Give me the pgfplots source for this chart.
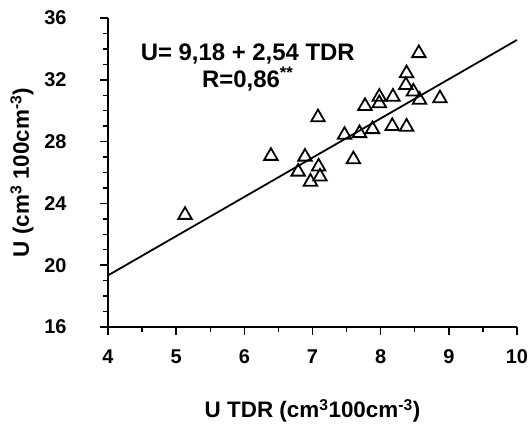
\documentclass[border=0pt]{standalone}
\usepackage{pgfplots}
\pgfplotsset{compat=1.18}
\usepackage{fontspec}
\setmainfont{Liberation Sans}
\begin{document}
\begin{tikzpicture}
\useasboundingbox (-108bp,-103bp) rectangle (424bp,327bp);
\begin{axis}[
  scale only axis,
  width=409bp, height=309bp,
  xmin=4, xmax=10, ymin=16, ymax=36,
  axis lines*=left,
  axis line style={line width=1.8pt},
  xtick={4,5,...,10}, ytick={16,20,...,36},
  minor x tick num=1, minor y tick num=3,
  tick align=outside,
  tick style={line width=1.5pt, black},
  major tick length=8bp, minor tick length=5bp,
  tick label style={font=\fontsize{20}{22}\selectfont\bfseries},
  /pgf/number format/assume math mode=true,
  xticklabel style={yshift=-11bp},
  yticklabel style={xshift=-30bp},
  xlabel={U TDR (cm\textsuperscript{3}100cm\textsuperscript{-3})},
  ylabel={U (cm\textsuperscript{3} 100cm\textsuperscript{-3})},
  label style={font=\fontsize{22.5}{24}\selectfont\bfseries},
  xlabel style={at={(axis description cs:0.5,0)}, anchor=center, yshift=-84bp},
  ylabel style={at={(axis description cs:0,0.5)}, anchor=center, yshift=86bp},
  clip=false,
]
\addplot[black, line width=1.8pt] coordinates {(4,19.34) (10,34.58)};
\addplot[only marks, mark=triangle, mark size=7.8pt, mark options={line width=1.8pt, black, fill=white}] coordinates {
(5.13,23.25) (6.39,27.07) (7.08,29.57) (6.89,27.02) (6.79,26.05)
(6.97,25.40) (7.11,25.73) (7.09,26.38) (7.47,28.43) (7.60,26.85)
(7.69,28.54) (7.88,28.80) (7.77,30.30) (7.98,30.90) (7.98,30.48)
(8.18,30.90) (8.17,29.00) (8.38,28.96) (8.38,32.42) (8.37,31.66)
(8.48,31.23) (8.57,30.70) (8.56,33.72) (8.87,30.80)
};
\node[font=\fontsize{24}{25}\selectfont\bfseries, anchor=base, inner sep=0pt] at (axis cs:6.05,33.25) {U= 9,18 + 2,54 TDR};
\node[font=\fontsize{24}{25}\selectfont\bfseries, anchor=base, inner sep=0pt] at (axis cs:6.05,31.5) {R=0,86\textsuperscript{**}};
\end{axis}
\end{tikzpicture}
\end{document}
